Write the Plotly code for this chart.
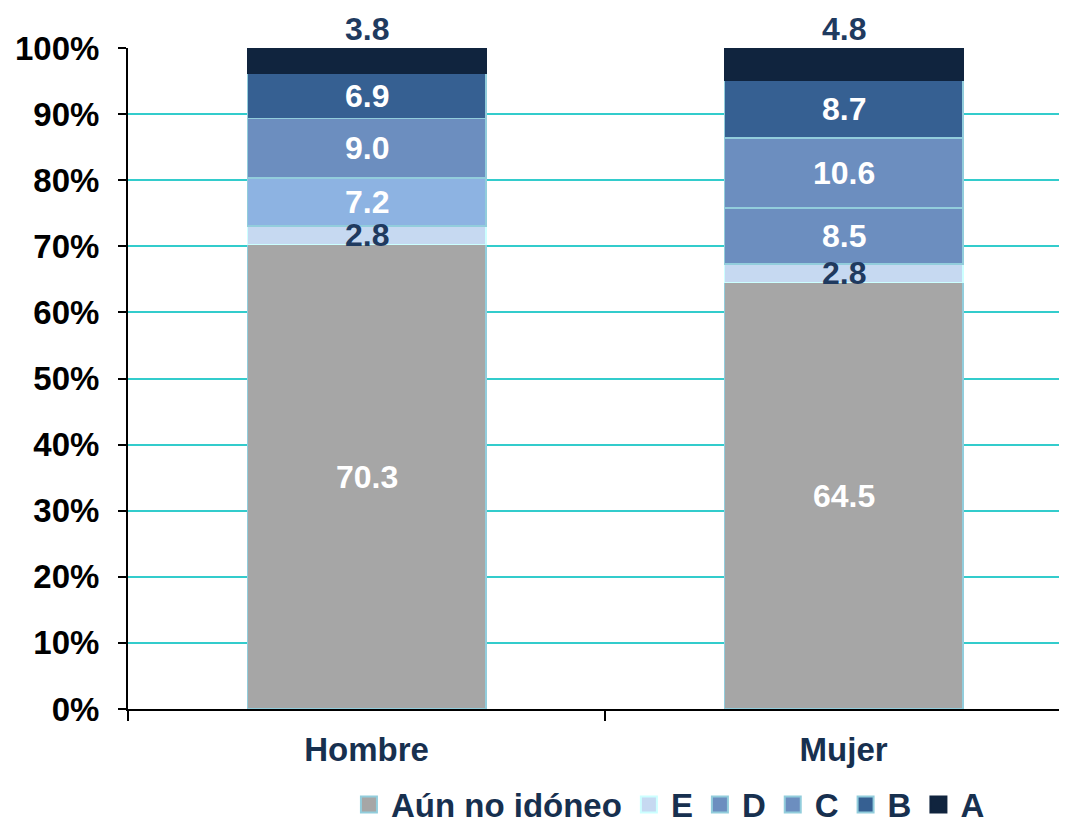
import plotly.graph_objects as go

categories = ["Hombre", "Mujer"]
series_names = ["Aún no idóneo", "E", "D", "C", "B", "A"]
aun_no_idoneo = [70.3, 64.5]
nivel_e = [2.8, 2.8]
nivel_d = [7.2, 8.5]
nivel_c = [9.0, 10.6]
nivel_b = [6.9, 8.7]
nivel_a = [3.8, 4.8]
y_ticks = [0, 10, 20, 30, 40, 50, 60, 70, 80, 90, 100]
y_tick_labels = [f"{t}%" for t in y_ticks]

values = [aun_no_idoneo, nivel_e, nivel_d, nivel_c, nivel_b, nivel_a]
fill = ["#A6A6A6", "#C6D9F1", ["#8DB3E2", "#6C8EBF"], "#6C8EBF", "#366092", "#10243E"]
legend_fill = ["#A6A6A6", "#C6D9F1", "#6C8EBF", "#6C8EBF", "#366092", "#10243E"]
edge = ["#92CDDC", "#CCFFFF", "#92CDDC", "#92CDDC", "#92CDDC", "#10243E"]
label_color = ["white", "#1F3A5F", "white", "white", "white", "#1F3A5F"]

NAVY = "#17304F"
FONT = "Liberation Sans, Arial, sans-serif"

fig = go.Figure()
for i, (name, vals) in enumerate(zip(series_names, values)):
    fig.add_trace(go.Bar(
        x=categories, y=vals, name=name, width=0.5,
        marker=dict(color=fill[i], line=dict(color=edge[i], width=1.5)),
        showlegend=False,
    ))
# legend entries (square swatches)
for i, name in enumerate(series_names):
    fig.add_trace(go.Scatter(
        x=[categories[0]], y=[None], name=name, mode="markers",
        marker=dict(symbol="square", size=18, color=legend_fill[i],
                    line=dict(color=edge[i], width=2)),
        showlegend=True,
    ))

annotations = []
for j, cat in enumerate(categories):
    base = 0.0
    for i, vals in enumerate(values):
        v = vals[j]
        font = dict(family=FONT, size=32, color=label_color[i], weight="bold")
        if series_names[i] == "A":
            annotations.append(dict(x=cat, y=100.0, text=f"{v:.1f}", showarrow=False,
                                    yanchor="bottom", yshift=-1, font=font))
        else:
            annotations.append(dict(x=cat, y=base + v / 2, text=f"{v:.1f}", showarrow=False,
                                    yanchor="middle", font=font))
        base += v

fig.update_layout(
    barmode="stack",
    width=1067, height=823,
    margin=dict(l=120, r=12, t=40, b=122),
    plot_bgcolor="white", paper_bgcolor="white",
    font=dict(family=FONT, size=33, color="black", weight="bold"),
    annotations=annotations,
    legend=dict(orientation="h", x=0.578, xanchor="center",
                yref="container", y=0.032, yanchor="middle",
                font=dict(family=FONT, size=33, color=NAVY, weight="bold"),
                traceorder="normal", itemwidth=34, tracegroupgap=0),
)
fig.update_xaxes(
    range=[-0.5, 1.46], showline=True, linecolor="black", linewidth=2,
    ticks="outside", tickson="boundaries", ticklen=10, tickcolor="black", tickwidth=2,
    tickfont=dict(family=FONT, size=33, color=NAVY, weight="bold"), showgrid=False,
    ticklabelstandoff=10, automargin=False,
)
fig.update_yaxes(
    range=[0, 100], tickvals=y_ticks, ticktext=y_tick_labels,
    showline=True, linecolor="black", linewidth=2,
    ticks="outside", ticklen=8, tickcolor="black", tickwidth=2,
    tickfont=dict(family=FONT, size=33, color="black", weight="bold"),
    ticklabelstandoff=12, automargin=False,
    showgrid=True, gridcolor="#33CCCC", gridwidth=2, zeroline=False,
)
fig.write_html("out.html")
